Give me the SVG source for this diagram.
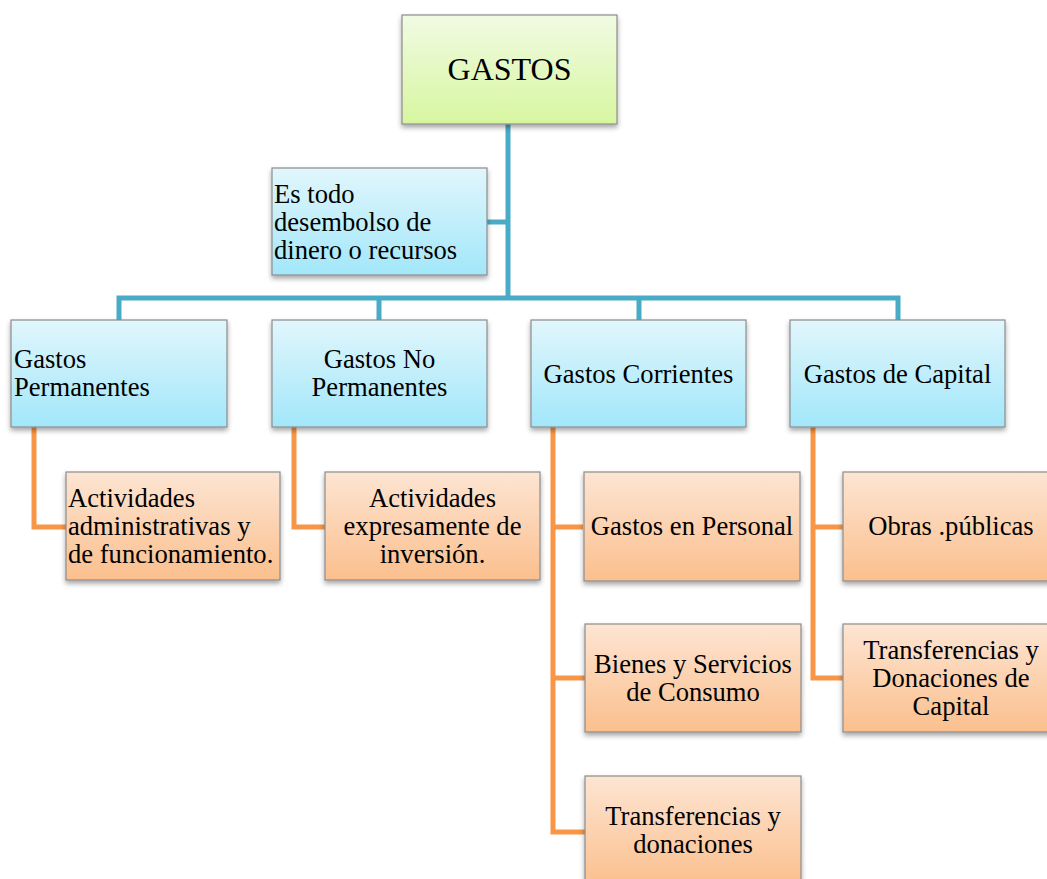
<svg xmlns="http://www.w3.org/2000/svg" width="1047" height="879" viewBox="0 0 1047 879">
<style>
text{font-family:"Liberation Serif","Times New Roman",serif;font-size:26.6px;fill:#000}
.c{text-anchor:middle}
.box{stroke:#8c8c8c;stroke-width:1.2}
.g{fill:url(#gGreen)}
.b{fill:url(#gBlue)}
.o{fill:url(#gOrange)}
.bl{fill:none;stroke:#4aabc6;stroke-width:5}
.or{fill:none;stroke:#f79646;stroke-width:5}
</style>
<defs>
<linearGradient id="gGreen" x1="0" y1="0" x2="0" y2="1"><stop offset="0" stop-color="#f1fbe3"/><stop offset="1" stop-color="#d7f6a0"/></linearGradient>
<linearGradient id="gBlue" x1="0" y1="0" x2="0" y2="1"><stop offset="0" stop-color="#e1f6fc"/><stop offset="1" stop-color="#a2e7fa"/></linearGradient>
<linearGradient id="gOrange" x1="0" y1="0" x2="0" y2="1"><stop offset="0" stop-color="#fde5d3"/><stop offset="1" stop-color="#fbbf8d"/></linearGradient>
<filter id="sh" x="-10%" y="-10%" width="120%" height="130%"><feDropShadow dx="0" dy="3" stdDeviation="2.5" flood-color="#000" flood-opacity="0.35"/></filter>
</defs>
<rect width="1047" height="879" fill="#fff"/>
<g id="connectors">
<path class="bl" d="M508,124 V298 M487,222 H508 M119,320 V298 H898 V320 M379,298 V320 M639,298 V320"/>
<path class="or" d="M34,427 V527 H66 M294,427 V527 H325 M553,427 V832 H585 M553,527 H583 M553,678 H585 M813,427 V678 H843 M813,527 H843"/>
</g>
<g id="gastos"><rect class="box g" filter="url(#sh)" x="402" y="15" width="215" height="109"/><text class="c" x="509.5" y="80" style="font-size:32px">GASTOS</text></g>
<g id="definicion"><rect class="box b" filter="url(#sh)" x="272" y="168" width="215" height="107"/><text x="274" y="202.5">Es todo</text><text x="274" y="230.5">desembolso de</text><text x="274" y="258.5">dinero o recursos</text></g>
<g id="permanentes"><rect class="box b" filter="url(#sh)" x="11" y="320" width="216" height="107"/><text x="14" y="368">Gastos</text><text x="14" y="396">Permanentes</text></g>
<g id="no-permanentes"><rect class="box b" filter="url(#sh)" x="272" y="320" width="215" height="107"/><text class="c" x="379.5" y="368">Gastos No</text><text class="c" x="379.5" y="396">Permanentes</text></g>
<g id="corrientes"><rect class="box b" filter="url(#sh)" x="531" y="320" width="215" height="107"/><text class="c" x="638.5" y="383">Gastos Corrientes</text></g>
<g id="capital"><rect class="box b" filter="url(#sh)" x="790" y="320" width="215" height="107"/><text class="c" x="897.5" y="383">Gastos de Capital</text></g>
<g id="act-admin"><rect class="box o" filter="url(#sh)" x="66" y="472" width="214" height="108"/><text x="68" y="507">Actividades</text><text x="68" y="535">administrativas y</text><text x="68" y="563">de funcionamiento.</text></g>
<g id="act-inversion"><rect class="box o" filter="url(#sh)" x="325" y="472" width="215" height="108"/><text class="c" x="432.5" y="507">Actividades</text><text class="c" x="432.5" y="535">expresamente de</text><text class="c" x="432.5" y="563">inversión.</text></g>
<g id="personal"><rect class="box o" filter="url(#sh)" x="584" y="472" width="216" height="109"/><text class="c" x="692" y="535">Gastos en Personal</text></g>
<g id="bienes"><rect class="box o" filter="url(#sh)" x="585" y="624" width="216" height="108"/><text class="c" x="693" y="673">Bienes y Servicios</text><text class="c" x="693" y="701">de Consumo</text></g>
<g id="transferencias"><rect class="box o" filter="url(#sh)" x="585" y="776" width="216" height="110"/><text class="c" x="693" y="825">Transferencias y</text><text class="c" x="693" y="853">donaciones</text></g>
<g id="obras"><rect class="box o" filter="url(#sh)" x="843" y="472" width="216" height="109"/><text class="c" x="951" y="535">Obras .públicas</text></g>
<g id="transf-capital"><rect class="box o" filter="url(#sh)" x="843" y="624" width="216" height="108"/><text class="c" x="951" y="659">Transferencias y</text><text class="c" x="951" y="687">Donaciones de</text><text class="c" x="951" y="715">Capital</text></g>
</svg>
